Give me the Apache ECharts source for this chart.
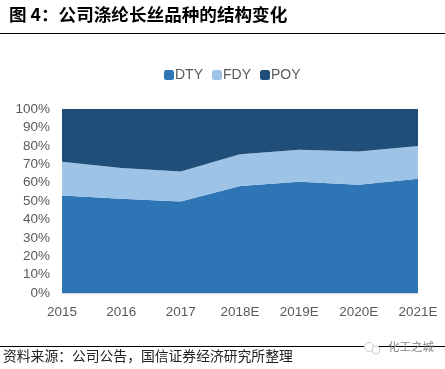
<!DOCTYPE html>
<html>
<head>
<meta charset="utf-8">
<script src="https://cdn.jsdelivr.net/npm/echarts@6/dist/echarts.min.js"></script>
<style>
  html, body { margin: 0; padding: 0; background: #fff; }
  #chart { width: 445px; height: 369px; }
</style>
</head>
<body>
<div id="chart"></div>
<script>
const years = ['2015', '2016', '2017', '2018E', '2019E', '2020E', '2021E'];
const dty = [53, 51.2, 49.7, 58.2, 60.4, 58.8, 62.1];
const fdy = [18.3, 16.8, 16.3, 17.2, 17.4, 18.1, 17.8];
const poy = [28.7, 32, 34, 24.6, 22.2, 23.1, 20.1];

const FONT = '"Liberation Sans", Arial, sans-serif';
const CJK = '"Noto Sans CJK SC", sans-serif';

function areaSeries(name, data, color) {
  return {
    name,
    type: 'line',
    stack: 'total',
    data,
    showSymbol: false,
    lineStyle: { width: 0 },
    areaStyle: { color, opacity: 1 },
    itemStyle: { color },
  };
}

const chart = echarts.init(document.getElementById('chart'));
chart.setOption({
  animation: false,
  title: {
    text: '图 4：公司涤纶长丝品种的结构变化',
    left: 4,
    top: 1,
    textStyle: { fontFamily: CJK, fontSize: 17.6, fontWeight: 'bold', color: '#000' },
  },
  legend: {
    top: 63,
    left: 159,
    itemWidth: 10,
    itemHeight: 10,
    itemGap: 9,
    icon: 'roundRect',
    textStyle: { fontFamily: FONT, fontSize: 14, color: '#595959', padding: [0, 0, 0, -4] },
    data: ['DTY', 'FDY', 'POY'],
  },
  grid: { left: 62, right: 27, top: 109, bottom: 76 },
  xAxis: {
    type: 'category',
    boundaryGap: false,
    data: years,
    axisLine: { show: true, lineStyle: { color: '#d9d9d9', width: 1 } },
    axisTick: { show: false },
    axisLabel: { fontFamily: FONT, fontSize: 13.5, color: '#595959', margin: 12, showMinLabel: true, showMaxLabel: true, hideOverlap: false },
  },
  yAxis: {
    type: 'value',
    min: 0,
    max: 100,
    interval: 10,
    axisLine: { show: false },
    axisTick: { show: false },
    splitLine: { show: true, lineStyle: { color: '#d9d9d9', width: 1 } },
    axisLabel: { fontFamily: FONT, fontSize: 13.5, color: '#595959', margin: 12, padding: [2, 0, 0, 0], formatter: '{value}%' },
  },
  series: [
    areaSeries('DTY', dty, '#2e75b6'),
    areaSeries('FDY', fdy, '#9dc3e6'),
    areaSeries('POY', poy, '#1f4e79'),
  ],
  graphic: [
    { type: 'line', shape: { x1: 0, y1: 33.5, x2: 445, y2: 33.5 }, style: { stroke: '#000', lineWidth: 1 } },
    { type: 'line', shape: { x1: 0, y1: 346.5, x2: 445, y2: 346.5 }, style: { stroke: '#000', lineWidth: 1 } },
    { type: 'text', left: 3, top: 349, style: { text: '资料来源：公司公告，国信证券经济研究所整理', font: '13.8px "Noto Sans CJK SC", sans-serif', fill: '#222' } },
    // faint watermark sitting on the bottom rule
    { type: 'circle', shape: { cx: 369, cy: 347, r: 4.5 }, style: { fill: '#fff', stroke: '#ccc', lineWidth: 1 } },
    { type: 'circle', shape: { cx: 376, cy: 350, r: 4 }, style: { fill: '#fff', stroke: '#ccc', lineWidth: 1 } },
    { type: 'text', left: 388, top: 341, style: { text: '化工之城', font: '11.5px "Noto Sans CJK SC", sans-serif', fill: '#888' } },
  ],
});
</script>
</body>
</html>
